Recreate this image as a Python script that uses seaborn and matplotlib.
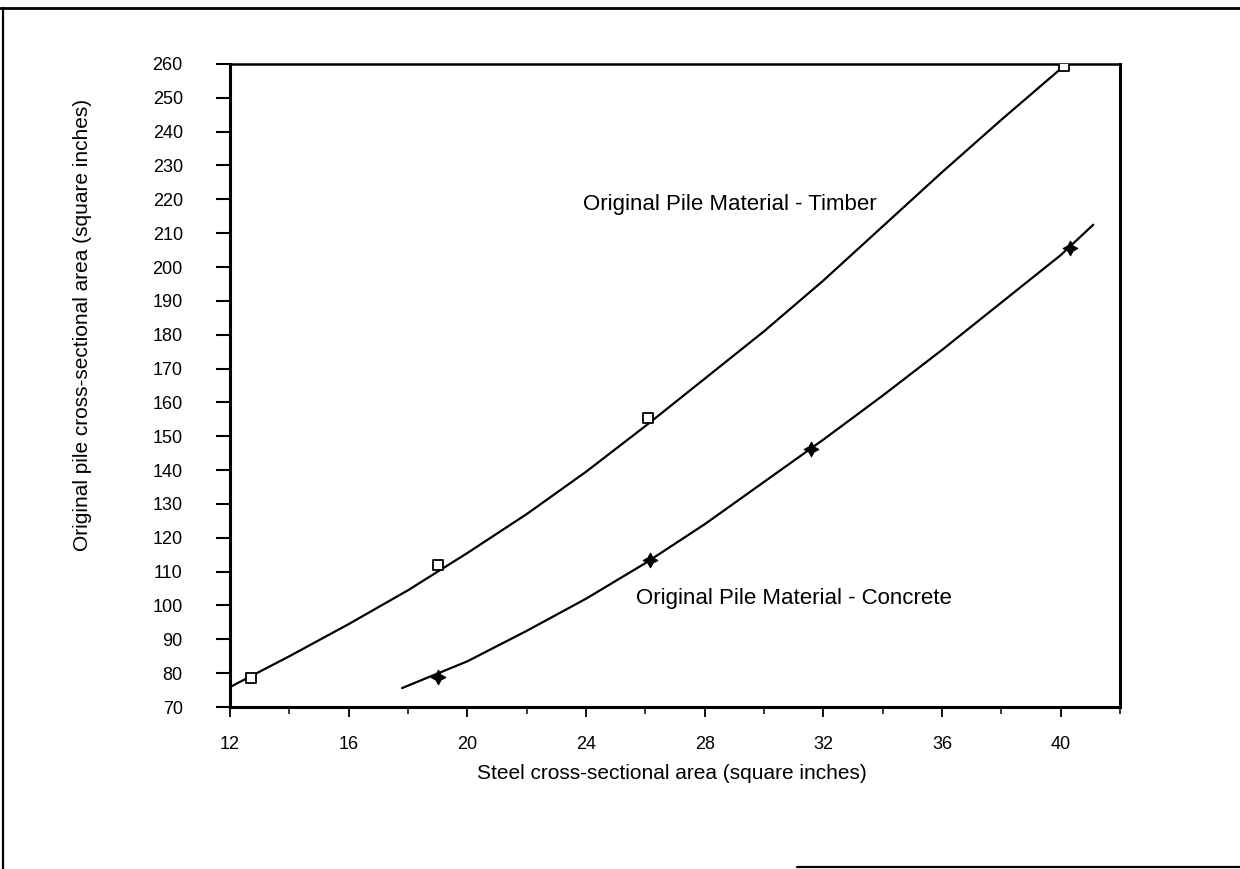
import matplotlib
matplotlib.use("Agg")
import matplotlib.pyplot as plt
import matplotlib.ticker as mticker
from matplotlib.lines import Line2D
import pandas as pd
import seaborn as sns

# curves (steel area, original pile area)
timber_curve_x = [12.0, 14.0, 16.0, 18.0, 20.0, 22.0, 24.0, 26.0, 28.0, 30.0, 32.0, 34.0, 36.0, 38.0, 40.1]
timber_curve_y = [75.9, 85.0, 94.5, 104.5, 115.5, 127.0, 139.5, 153.0, 167.0, 181.0, 196.0, 212.0, 228.0, 243.5, 259.3]
concrete_curve_x = [17.8, 20.0, 22.0, 24.0, 26.0, 28.0, 30.0, 32.0, 34.0, 36.0, 38.0, 40.0, 41.1]
concrete_curve_y = [75.6, 83.5, 92.5, 102.0, 112.5, 124.0, 136.5, 149.0, 162.0, 175.5, 189.5, 203.5, 212.5]

# plotted points
timber_x = [12.7, 19.0, 26.1, 40.1]
timber_y = [78.5, 112.0, 155.3, 259.3]
concrete_x = [19.0, 26.15, 31.6, 40.3]
concrete_y = [79.0, 113.5, 146.2, 205.5]

sns.set_style("ticks")
plt.rcParams['font.family'] = ['Liberation Sans', 'DejaVu Sans']
plt.rcParams['text.color'] = 'black'
plt.rcParams['axes.labelcolor'] = 'black'

fig = plt.figure(figsize=(12.4, 8.69), dpi=100)
ax = fig.add_axes([0.1855, 0.1864, 0.7177, 0.74])

timber_df = pd.DataFrame({"x": timber_curve_x, "y": timber_curve_y})
concrete_df = pd.DataFrame({"x": concrete_curve_x, "y": concrete_curve_y})
sns.lineplot(data=timber_df, x="x", y="y", sort=False, color="black", linewidth=1.6, ax=ax)
sns.lineplot(data=concrete_df, x="x", y="y", sort=False, color="black", linewidth=1.6, ax=ax)

sns.scatterplot(x=timber_x, y=timber_y, marker="s", s=55, facecolor="white",
                edgecolor="black", linewidth=1.3, ax=ax, zorder=3)
sns.scatterplot(x=concrete_x, y=concrete_y, marker=(4, 1, 0), s=110, color="black",
                edgecolor="black", linewidth=0.8, ax=ax, zorder=3)

ax.set_xlim(12, 42)
ax.set_ylim(70, 260)
ax.xaxis.set_major_locator(mticker.FixedLocator(range(12, 41, 4)))
ax.xaxis.set_minor_locator(mticker.FixedLocator(range(14, 43, 4)))
ax.yaxis.set_major_locator(mticker.MultipleLocator(10))

ax.tick_params(axis="x", which="major", direction="out", length=7, width=1.3,
               pad=14, labelsize=13, colors="black")
ax.tick_params(axis="x", which="minor", direction="out", length=5, width=1.3)
ax.tick_params(axis="y", which="major", direction="out", length=10, width=1.5,
               pad=24, labelsize=13, colors="black")

for side in ["left", "right", "top", "bottom"]:
    ax.spines[side].set_visible(True)
    ax.spines[side].set_color("black")
    ax.spines[side].set_linewidth(2.2)
ax.spines["top"].set_linewidth(1.8)

ax.set_xlabel("Steel cross-sectional area (square inches)", fontsize=15)
ax.set_ylabel("Original pile cross-sectional area (square inches)", fontsize=15)
ax.xaxis.set_label_coords(0.497, -0.088)
ax.yaxis.set_label_coords(-0.155, 0.594)

ax.text(23.9, 218.5, "Original Pile Material - Timber", fontsize=16, ha="left", va="center")
ax.text(25.7, 102.2, "Original Pile Material - Concrete", fontsize=16, ha="left", va="center")

# page frame of the scanned figure
fig.add_artist(Line2D([0.0, 1.0], [0.991, 0.991], color="black", linewidth=2, transform=fig.transFigure))
fig.add_artist(Line2D([0.0025, 0.0025], [0.0, 0.991], color="black", linewidth=1.6, transform=fig.transFigure))
fig.add_artist(Line2D([0.643, 1.0], [0.0025, 0.0025], color="black", linewidth=1.6, transform=fig.transFigure))

fig.savefig("out.png", dpi=100, facecolor="white")
